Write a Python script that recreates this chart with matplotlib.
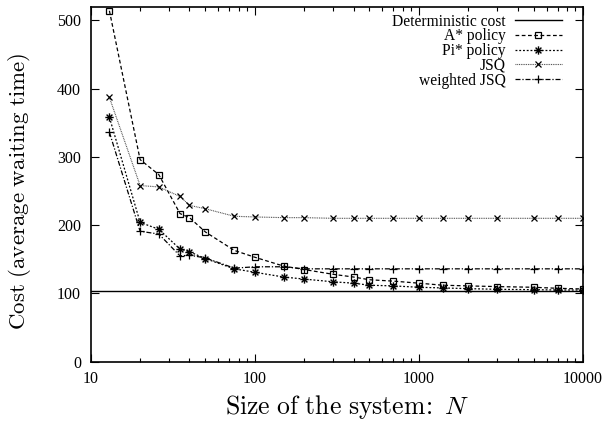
import matplotlib
matplotlib.use('Agg')
import matplotlib.pyplot as plt
from matplotlib.path import Path
from matplotlib.ticker import FixedLocator, NullFormatter, LogLocator

# system sizes
sizes = [13, 20, 26, 35, 40, 50, 75, 100, 150, 200, 300, 400, 500, 700,
         1000, 1400, 2000, 3000, 5000, 7000, 10000]

deterministic_cost = 103

a_star = [514, 296, 274, 217, 211, 190, 163, 153, 140, 135, 128, 124, 120,
          118, 115, 112, 111, 110, 109, 107.5, 106.5]
pi_star = [358, 204, 194, 165, 161, 151, 136, 131, 124, 121, 117, 115, 112,
           111, 109, 108, 107, 106, 105.5, 105, 105]
jsq = [387, 258, 256, 242, 229, 224, 213, 212, 211, 211, 210, 210, 210,
       210, 210, 210, 210, 210, 210, 210, 210]
weighted_jsq = [336, 191, 187, 155, 156, 152, 137, 139, 139, 136, 136, 136,
                136, 136, 136, 136, 136, 136, 136, 136, 136]

x_ticks = [10, 100, 1000, 10000]
y_ticks = [0, 100, 200, 300, 400, 500]

plt.rcParams['font.family'] = ['Liberation Serif', 'DejaVu Serif']
plt.rcParams['mathtext.fontset'] = 'cm'

# gnuplot style asterisk (+ and x)
star_path = Path(
    [(-1, 0), (1, 0), (0, -1), (0, 1), (-0.7, -0.7), (0.7, 0.7), (-0.7, 0.7), (0.7, -0.7)],
    [Path.MOVETO, Path.LINETO] * 4)

fig = plt.figure(figsize=(6.02, 4.21), dpi=100)
ax = fig.add_axes([0.1507, 0.1409, 0.8176, 0.8432])

ax.axhline(deterministic_cost, color='black', lw=1.0, label='Deterministic cost')
ax.plot(sizes, a_star, color='black', lw=0.9, dashes=(3, 2), marker='s',
        ms=5, mfc='none', mew=0.9, label='A* policy')
ax.plot(sizes, pi_star, color='black', lw=0.9, dashes=(1.5, 1.5), marker=star_path,
        ms=6, mew=1.0, label='Pi* policy')
ax.plot(sizes, jsq, color='#444444', lw=0.8, dashes=(0.8, 0.8), marker='x',
        ms=5, mew=0.9, mec='black', label='JSQ')
ax.plot(sizes, weighted_jsq, color='black', lw=0.9, dashes=(4, 1.5, 1, 1.5), marker='+',
        ms=6, mew=0.9, label='weighted JSQ')

ax.set_xscale('log')
ax.set_xlim(10, 10000)
ax.set_ylim(0, 520)
ax.xaxis.set_major_locator(FixedLocator(x_ticks))
ax.xaxis.set_minor_locator(LogLocator(base=10, subs=range(2, 10)))
ax.xaxis.set_minor_formatter(NullFormatter())
ax.set_xticklabels([str(t) for t in x_ticks])
ax.set_yticks(y_ticks)

ax.tick_params(which='both', direction='in', top=True, right=True, labelsize=11.5)
ax.tick_params(which='major', length=6, width=0.8, pad=7)
ax.tick_params(which='minor', length=3, width=0.8)
for s in ax.spines.values():
    s.set_linewidth(1.2)

ax.set_xlabel(r'$\mathrm{Size\ of\ the\ system}\!:\ N$', fontsize=18.5, labelpad=4)
ax.xaxis.label.set_x(0.52)
ax.set_ylabel(r'$\mathrm{Cost\ (average\ waiting\ time)}$', fontsize=16.5)
ax.yaxis.set_label_coords(-0.117, 0.48)

ax.legend(loc='upper right', bbox_to_anchor=(0.985, 1.02), frameon=False,
          markerfirst=False, numpoints=1, fontsize=11.2, handlelength=3.0,
          handletextpad=0.6, labelspacing=-0.08)

plt.savefig('out.png', dpi=100)
